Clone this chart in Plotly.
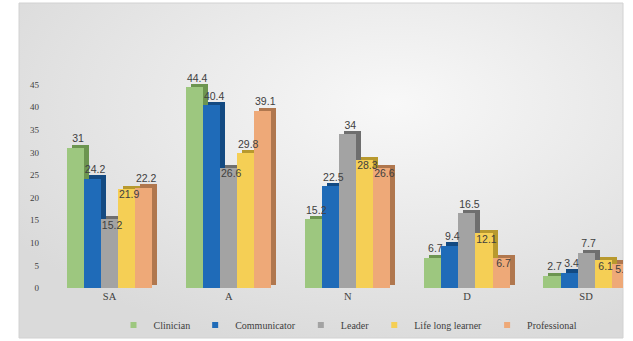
import base64
import plotly.graph_objects as go

categories = ["SA", "A", "N", "D", "SD"]
series_names = ["Clinician", "Communicator", "Leader", "Life long learner", "Professional"]
clinician = [31, 44.4, 15.2, 6.7, 2.7]
communicator = [24.2, 40.4, 22.5, 9.4, 3.4]
leader = [15.2, 26.6, 34, 16.5, 7.7]
life_long_learner = [21.9, 29.8, 28.3, 12.1, 6.1]
professional = [22.2, 39.1, 26.6, 6.7, 5.4]
series_values = [clinician, communicator, leader, life_long_learner, professional]

front_colors = ["#9dc77f", "#1f6bb8", "#a3a3a3", "#f5cf55", "#eea978"]
side_colors = ["#6c9550", "#134a82", "#6e6e6e", "#b8992e", "#b0774e"]
label_inside = [
    [False] * 5,
    [False] * 5,
    [True, True, False, False, False],
    [True, False, True, True, True],
    [False, False, True, True, True],
]

w = 0.143   # bar width (category units)
dx = 0.042  # depth x
dy = 0.7    # depth y (value units)

fig = go.Figure()
for i, (name, vals) in enumerate(zip(series_names, series_values)):
    xc = [j + (i - 2) * w for j in range(len(categories))]
    fig.add_trace(go.Bar(
        x=[x + dx for x in xc], y=vals, base=[dy] * len(vals), width=w,
        marker=dict(color=side_colors[i], line=dict(width=0)),
        showlegend=False, hoverinfo="skip",
    ))
    fig.add_trace(go.Bar(
        x=xc, y=vals, width=w, name=name, showlegend=False,
        marker=dict(color=front_colors[i], line=dict(width=0)),
    ))

# data labels on top of all bars
for i, vals in enumerate(series_values):
    xc = [j + (i - 2) * w + dx / 2 for j in range(len(categories))]
    ys = [v - 0.3 if ins else v + dy for v, ins in zip(vals, label_inside[i])]
    pos = ["bottom center" if ins else "top center" for ins in label_inside[i]]
    fig.add_trace(go.Scatter(
        x=xc, y=ys, mode="text", text=[f"{v:g}" for v in vals], textposition=pos,
        textfont=dict(family="Liberation Sans", size=10.5, color="#404040"),
        showlegend=False, hoverinfo="skip",
    ))

# legend entries (small square keys)
for i, name in enumerate(series_names):
    fig.add_trace(go.Scatter(
        x=[None], y=[None], mode="markers", name=name,
        marker=dict(symbol="square", size=6, color=front_colors[i]),
    ))

svg = """<svg xmlns='http://www.w3.org/2000/svg' width='604' height='335'>
<defs><radialGradient id='g' cx='62%' cy='30%' r='75%'>
<stop offset='0' stop-color='#f8f8f8'/><stop offset='1' stop-color='#dadada'/>
</radialGradient></defs><rect width='604' height='335' fill='url(#g)'/></svg>"""
src = "data:image/svg+xml;base64," + base64.b64encode(svg.encode()).decode()

L, R, T, B = 50, 10, 62, 53
W, H = 633, 341
pw, ph = W - L - R, H - T - B
px = lambda p: (p - L) / pw
py = lambda p: (H - B - p) / ph

fig.add_layout_image(dict(
    source=src, xref="paper", yref="paper",
    x=px(19), y=py(3), sizex=px(623) - px(19), sizey=py(3) - py(338),
    xanchor="left", yanchor="top", sizing="stretch", layer="below",
))
fig.add_shape(type="rect", xref="paper", yref="paper",
              x0=px(19), x1=px(623), y0=py(338), y1=py(3),
              line=dict(color="#d2d2d2", width=1), layer="below")

fig.update_layout(
    width=W, height=H,
    margin=dict(l=L, r=R, t=T, b=B, autoexpand=False),
    paper_bgcolor="white", plot_bgcolor="rgba(0,0,0,0)",
    barmode="overlay", bargap=0,
    font=dict(family="Liberation Serif", size=10, color="#404040"),
    xaxis=dict(
        range=[-0.5, 4.31], tickmode="array", tickvals=list(range(len(categories))),
        ticktext=categories, showgrid=False, zeroline=False, showline=False,
        ticks="", tickfont=dict(size=10.5, color="#404040"),
    ),
    yaxis=dict(
        range=[0, 50], tickmode="array", tickvals=list(range(0, 50, 5)),
        showgrid=False, zeroline=False, showline=False, ticks="",
        tickfont=dict(size=9, color="#404040"), ticklabelstandoff=10,
    ),
    legend=dict(
        orientation="h", x=px(348), xanchor="center", y=py(325), yanchor="middle",
        font=dict(size=10, color="#404040"), bgcolor="rgba(0,0,0,0)",
        itemwidth=30, tracegroupgap=0,
    ),
)

fig.write_html("out.html", config={"displayModeBar": False},
               post_script="document.body.style.margin='0px';")
